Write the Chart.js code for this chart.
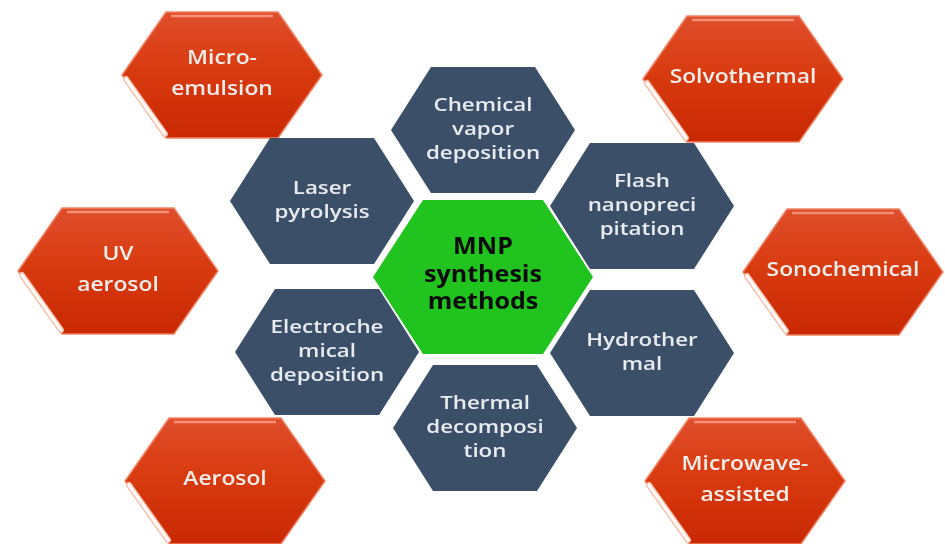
<!DOCTYPE html>
<html>
<head>
<meta charset="utf-8">
<script src="https://cdn.jsdelivr.net/npm/chart.js@4.4.0/dist/chart.umd.min.js"></script>
<style>
  html, body { margin: 0; padding: 0; background: #fff; overflow: hidden; }
  #wrap { width: 945px; height: 544px; }
</style>
</head>
<body>
<div id="wrap"><canvas id="chart" width="945" height="544"></canvas></div>
<script>
// outer ring (red)
const outerLabels = [["Micro-", "emulsion"], ["Solvothermal"], ["UV", "aerosol"], ["Sonochemical"], ["Aerosol"], ["Microwave-", "assisted"]];
const outerX = [222, 743, 118, 843, 225, 745];
const outerY = [75, 79, 271, 272, 481, 481];

// inner ring (blue)
const innerLabels = [["Chemical", "vapor", "deposition"], ["Laser", "pyrolysis"], ["Flash", "nanopreci", "pitation"],
  ["Electroche", "mical", "deposition"], ["Hydrother", "mal"], ["Thermal", "decomposi", "tion"]];
const innerX = [483, 322, 642, 327, 642, 485];
const innerY = [130, 201, 206, 352, 353, 428];

// centre
const centerLabels = [["MNP", "synthesis", "methods"]];
const centerX = [483];
const centerY = [277];

function points(xs, ys) {
    return xs.map((x, i) => ({ x, y: ys[i] }));
}

function hexPath(ctx, cx, cy, w, a, h) {
    ctx.beginPath();
    ctx.moveTo(cx - w, cy);
    ctx.lineTo(cx - a, cy - h);
    ctx.lineTo(cx + a, cy - h);
    ctx.lineTo(cx + w, cy);
    ctx.lineTo(cx + a, cy + h);
    ctx.lineTo(cx - a, cy + h);
    ctx.closePath();
}

const hexPlugin = {
    id: 'hexagons',
    afterDatasetsDraw(chart) {
        const ctx = chart.ctx;
        chart.data.datasets.forEach((ds, di) => {
            const meta = chart.getDatasetMeta(di);
            const s = ds.hex;
            meta.data.forEach((pt, i) => {
                const cx = pt.x, cy = pt.y;
                ctx.save();
                hexPath(ctx, cx, cy, s.w, s.a, s.h);
                if (s.gradient) {
                    const g = ctx.createLinearGradient(0, cy - s.h, 0, cy + s.h);
                    g.addColorStop(0, '#df4e2c');
                    g.addColorStop(0.45, '#d93b10');
                    g.addColorStop(1, '#c92803');
                    ctx.fillStyle = g;
                } else {
                    ctx.fillStyle = s.fill;
                }
                ctx.fill();
                if (s.gradient) {
                    ctx.strokeStyle = '#ef8566';
                    ctx.lineWidth = 1.5;
                    ctx.stroke();
                    // top gloss
                    ctx.strokeStyle = 'rgba(255,180,160,0.65)';
                    ctx.lineWidth = 2.5;
                    ctx.beginPath();
                    ctx.moveTo(cx - s.a + 5, cy - s.h + 4);
                    ctx.lineTo(cx + s.a - 5, cy - s.h + 4);
                    ctx.stroke();
                    // lower-left white highlight
                    ctx.lineCap = 'round';
                    ctx.strokeStyle = '#f7b9a4';
                    ctx.lineWidth = 6;
                    ctx.beginPath();
                    ctx.moveTo(cx - s.w + 4, cy + 4);
                    ctx.lineTo(cx - s.a - 1, cy + s.h - 4);
                    ctx.stroke();
                    ctx.strokeStyle = '#fffaf7';
                    ctx.lineWidth = 3.5;
                    ctx.stroke();
                }
                ctx.restore();

                // text, stretched sideways like the source picture
                const lines = ds.lines[i];
                ctx.save();
                ctx.fillStyle = s.color;
                ctx.font = s.font;
                ctx.textAlign = 'center';
                ctx.textBaseline = 'middle';
                const top = cy - (lines.length - 1) * s.lh / 2 + s.dy;
                lines.forEach((t, k) => {
                    ctx.save();
                    ctx.translate(cx, top + k * s.lh);
                    ctx.scale(s.stretch, 1);
                    ctx.fillText(t, 0, 0);
                    ctx.restore();
                });
                ctx.restore();
            });
        });
    }
};

const ctx = document.getElementById('chart').getContext('2d');
new Chart(ctx, {
    type: 'scatter',
    data: {
        datasets: [
            {
                label: 'outer',
                data: points(outerX, outerY),
                lines: outerLabels,
                hex: { w: 100, a: 56, h: 63, gradient: true, color: '#f4eeea', font: '600 19px "Open Sans"',
                       lh: 31, dy: -1, stretch: 1.2 }
            },
            {
                label: 'inner',
                data: points(innerX, innerY),
                lines: innerLabels,
                hex: { w: 92, a: 52, h: 63, fill: '#3b4f69', color: '#e8ecef', font: '600 18px "Open Sans"',
                       lh: 24, dy: 0, stretch: 1.24 }
            },
            {
                label: 'centre',
                data: points(centerX, centerY),
                lines: centerLabels,
                hex: { w: 110, a: 60, h: 77, fill: '#21c31f', color: '#0a0a0a', font: 'bold 23px "Open Sans"',
                       lh: 27.5, dy: -2, stretch: 1.09 }
            }
        ]
    },
    options: {
        responsive: false,
        animation: false,
        maintainAspectRatio: false,
        layout: { padding: 0 },
        elements: { point: { radius: 0, hoverRadius: 0 } },
        plugins: { legend: { display: false }, tooltip: { enabled: false } },
        scales: {
            x: { type: 'linear', min: 0, max: 945, display: false },
            y: { type: 'linear', min: 0, max: 544, reverse: true, display: false }
        }
    },
    plugins: [hexPlugin]
});
</script>
</body>
</html>
